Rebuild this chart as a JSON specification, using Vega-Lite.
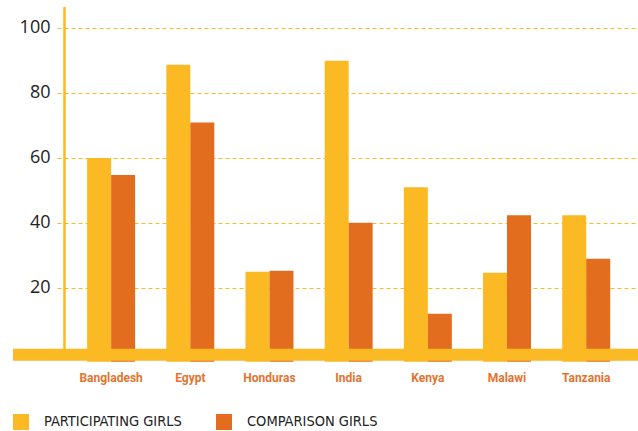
{
  "$schema": "https://vega.github.io/schema/vega-lite/v6.json",
  "autosize": "none",
  "padding": {"left": 57, "top": 7, "right": 0, "bottom": 78},
  "width": 581,
  "height": 346,
  "config": {"view": {"stroke": null}},
  "layer": [
    {
      "data": {"values": [
        {"country": "Bangladesh", "group": "PARTICIPATING GIRLS", "value": 60.0},
        {"country": "Bangladesh", "group": "COMPARISON GIRLS", "value": 54.8},
        {"country": "Egypt", "group": "PARTICIPATING GIRLS", "value": 88.7},
        {"country": "Egypt", "group": "COMPARISON GIRLS", "value": 70.9},
        {"country": "Honduras", "group": "PARTICIPATING GIRLS", "value": 25.0},
        {"country": "Honduras", "group": "COMPARISON GIRLS", "value": 25.3},
        {"country": "India", "group": "PARTICIPATING GIRLS", "value": 89.9},
        {"country": "India", "group": "COMPARISON GIRLS", "value": 40.1},
        {"country": "Kenya", "group": "PARTICIPATING GIRLS", "value": 51.0},
        {"country": "Kenya", "group": "COMPARISON GIRLS", "value": 12.1},
        {"country": "Malawi", "group": "PARTICIPATING GIRLS", "value": 24.7},
        {"country": "Malawi", "group": "COMPARISON GIRLS", "value": 42.4},
        {"country": "Tanzania", "group": "PARTICIPATING GIRLS", "value": 42.4},
        {"country": "Tanzania", "group": "COMPARISON GIRLS", "value": 29.0}
      ]},
      "mark": {"type": "bar"},
      "encoding": {
        "x": {
          "field": "country", "type": "nominal", "sort": null,
          "scale": {"paddingInner": 0.394, "paddingOuter": 0.366, "align": 0.52},
          "axis": {
            "title": null, "domain": false, "ticks": false, "tickSize": 0, "labelPadding": 19,
            "labelAngle": 0, "labelFont": "Roboto", "labelFontWeight": "bold",
            "labelFontSize": 12, "labelColor": "#E3732F"
          }
        },
        "xOffset": {"field": "group", "type": "nominal", "sort": ["PARTICIPATING GIRLS", "COMPARISON GIRLS"], "scale": {"paddingInner": 0, "paddingOuter": 0}},
        "y": {
          "field": "value", "type": "quantitative",
          "scale": {"domain": [0, 106.4615], "nice": false},
          "axis": {
            "title": null, "values": [20, 40, 60, 80, 100],
            "domain": false, "ticks": false, "tickSize": 0, "labelPadding": 7,
            "grid": true, "gridColor": "#FBB923", "gridDash": [4, 3], "gridWidth": 1,
            "labelFont": "Open Sans", "labelFontSize": 18, "labelColor": "#222222"
          }
        },
        "y2": {"datum": -2.7},
        "color": {
          "field": "group", "type": "nominal",
          "scale": {"domain": ["PARTICIPATING GIRLS", "COMPARISON GIRLS"], "range": ["#FBB923", "#E36D1E"]},
          "legend": {
            "title": null, "orient": "none", "legendX": -44, "legendY": 407,
            "direction": "horizontal", "padding": 0,
            "symbolType": "square", "symbolSize": 256, "symbolStrokeWidth": 0,
            "labelFont": "DejaVu Sans Condensed", "labelFontSize": 14.5, "labelColor": "#222222",
            "labelOffset": 15, "columnPadding": 34
          }
        }
      }
    },
    {
      "data": {"values": [{"v": 0}]},
      "mark": {"type": "rule", "color": "#FBB923", "strokeWidth": 2.5},
      "encoding": {
        "x": {"datum": 0.0129, "type": "quantitative", "scale": {"domain": [0, 1], "nice": false}, "axis": null},
        "y": {"datum": 106.4615, "type": "quantitative"},
        "y2": {"datum": 0}
      }
    },
    {
      "data": {"values": [{"v": 0}]},
      "mark": {"type": "rule", "color": "#FBB923", "strokeWidth": 12, "strokeCap": "butt"},
      "encoding": {
        "y": {"datum": -0.5, "type": "quantitative"},
        "x": {"datum": -0.0757, "type": "quantitative", "scale": {"domain": [0, 1], "nice": false}, "axis": null},
        "x2": {"datum": 1}
      }
    }
  ],
  "resolve": {"scale": {"x": "independent"}, "axis": {"x": "independent"}}
}
